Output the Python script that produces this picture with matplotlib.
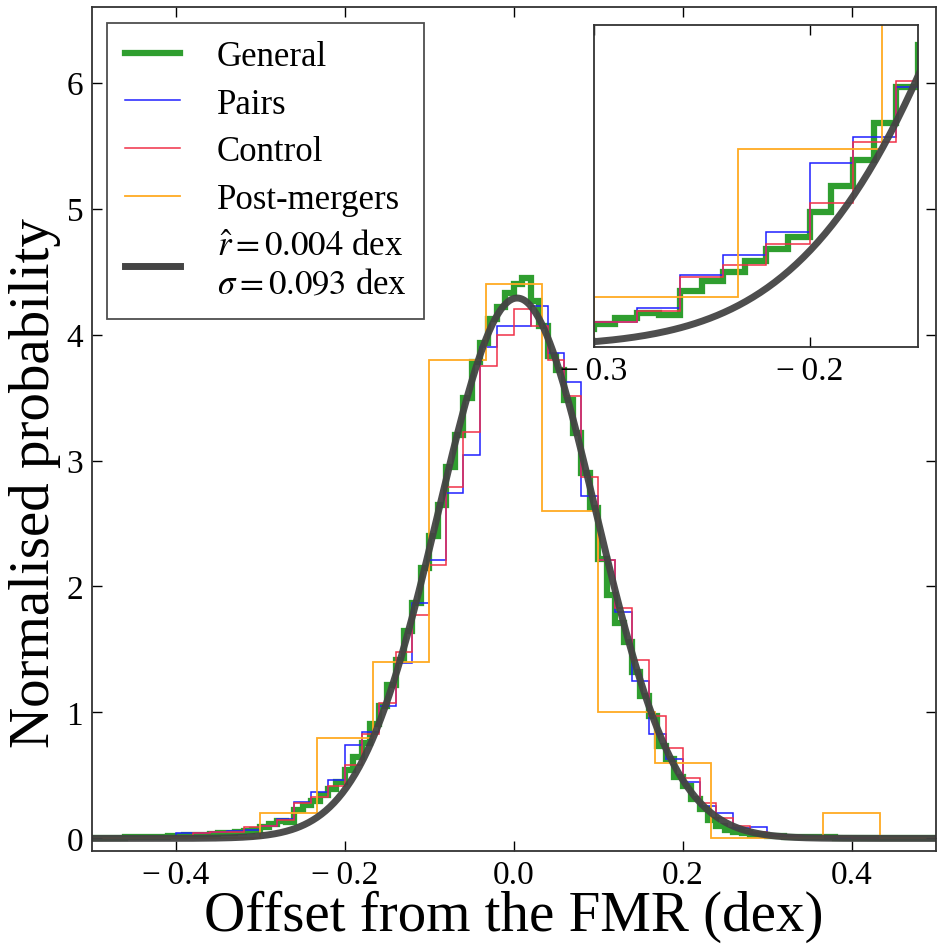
import numpy as np
import matplotlib
matplotlib.use("Agg")
import matplotlib.pyplot as plt
from matplotlib.lines import Line2D

plt.rcParams['font.family'] = 'serif'
plt.rcParams['font.serif'] = ['Liberation Serif', 'DejaVu Serif']
plt.rcParams['mathtext.fontset'] = 'stix'

# bin edges of the histograms
edges_fine = np.linspace(-0.5, 0.5, 101)    # General
edges_mid = np.linspace(-0.5, 0.5, 51)      # Pairs / Control
edges_coarse = np.linspace(-0.5, 0.5, 16)   # Post-mergers

general = [0.005, 0.005, 0.005, 0.005, 0.01, 0.01, 0.01, 0.015, 0.015, 0.02,
           0.02, 0.025, 0.03, 0.03, 0.035, 0.04, 0.045, 0.05, 0.06, 0.07,
           0.09, 0.115, 0.135, 0.13, 0.225, 0.265, 0.30, 0.345, 0.395, 0.445,
           0.545, 0.65, 0.755, 0.905, 1.05, 1.22, 1.42, 1.65, 1.87, 2.15,
           2.40, 2.65, 2.95, 3.20, 3.50, 3.78, 3.93, 4.12, 4.22, 4.33,
           4.40, 4.45, 4.27, 4.07, 3.83, 3.72, 3.48, 3.22, 2.90, 2.62,
           2.22, 1.93, 1.71, 1.56, 1.32, 1.13, 0.97, 0.73, 0.63, 0.49,
           0.42, 0.31, 0.23, 0.15, 0.10, 0.07, 0.05, 0.04, 0.03, 0.025,
           0.02, 0.017, 0.015, 0.012, 0.01, 0.01, 0.008, 0.008, 0.006, 0.006,
           0.005, 0.005, 0.004, 0.004, 0.003, 0.003, 0.003, 0.002, 0.002, 0.002]

pairs = [0, 0, 0, 0, 0, 0.04, 0.04, 0.05, 0.06, 0.07,
         0.10, 0.155, 0.29, 0.37, 0.465, 0.74, 0.845, 1.05, 1.39, 1.87,
         2.21, 2.74, 3.04, 3.90, 4.07, 4.07, 4.23, 3.85, 3.62, 2.72,
         2.21, 1.80, 1.25, 0.83, 0.63, 0.45, 0.26, 0.20, 0.08, 0.09,
         0.03, 0.02, 0.01, 0.01, 0, 0, 0, 0, 0, 0]

control = [0, 0, 0, 0.01, 0.01, 0.02, 0.04, 0.05, 0.05, 0.09,
           0.10, 0.145, 0.28, 0.33, 0.415, 0.58, 0.825, 1.075, 1.48, 1.77,
           2.17, 2.79, 3.23, 3.75, 4.00, 4.20, 4.07, 3.80, 3.51, 2.87,
           2.21, 1.83, 1.42, 0.97, 0.72, 0.48, 0.28, 0.16, 0.10, 0.05,
           0.03, 0.02, 0.01, 0.01, 0.01, 0, 0, 0, 0, 0]

post_mergers = [0, 0, 0, 0.2, 0.8, 1.4, 3.8, 4.4, 2.6, 1.0, 0.6, 0, 0, 0.2, 0]

# fitted normal distribution (values from the legend)
r_hat = 0.004
sigma = 0.093

labels = ['General', 'Pairs', 'Control', 'Post-mergers',
          '$\\hat{r}=0.004$ dex\n$\\sigma=0.093$ dex']

xticks = [-0.4, -0.2, 0.0, 0.2, 0.4]
xticklabels = ['\u2212\u20090.4', '\u2212\u20090.2', '0.0', '0.2', '0.4']
yticks = [0, 1, 2, 3, 4, 5, 6]
inset_xticks = [-0.3, -0.2]
inset_xticklabels = ['\u2212\u20090.3', '\u2212\u20090.2']

x_fit = np.linspace(-0.5, 0.5, 600)
y_fit = np.exp(-0.5 * ((x_fit - r_hat) / sigma) ** 2) / (sigma * np.sqrt(2 * np.pi))

c_gen = '#2f9e2f'
c_pairs = '#1f1fff'
c_ctrl = '#f03048'
c_post = '#ffaa22'
c_fit = '#444444'


def draw(ax):
    ax.stairs(general, edges_fine, baseline=None, color=c_gen, lw=4.5)
    ax.stairs(pairs, edges_mid, baseline=None, color=c_pairs, lw=1.1)
    ax.stairs(control, edges_mid, baseline=None, color=c_ctrl, lw=1.1)
    ax.stairs(post_mergers, edges_coarse, baseline=None, color=c_post, lw=1.3)
    ax.plot(x_fit, y_fit, color=c_fit, lw=5, alpha=0.95)


def style_frame(ax):
    for s in ax.spines.values():
        s.set_linewidth(1.3)
        s.set_color('#333333')


fig = plt.figure(figsize=(9.44, 9.45), dpi=100)
ax = fig.add_axes([0.097, 0.0984, 0.8945, 0.8931])
draw(ax)
ax.set_xlim(-0.5, 0.5)
ax.set_ylim(-0.1, 6.6)
ax.set_xticks(xticks)
ax.set_xticklabels(xticklabels)
ax.set_yticks(yticks)
ax.tick_params(direction='in', length=7, width=1, top=True, right=True, labelsize=24, pad=6)
style_frame(ax)
ax.set_xlabel('Offset from the FMR (dex)', fontsize=41, labelpad=0)
ax.set_ylabel('Normalised probability', fontsize=41)
ax.yaxis.set_label_coords(-0.036, 0.437)

# legend with straight proxy lines
proxies = [Line2D([], [], color=c_gen, lw=4.5),
           Line2D([], [], color=c_pairs, lw=1.1),
           Line2D([], [], color=c_ctrl, lw=1.1),
           Line2D([], [], color=c_post, lw=1.3),
           Line2D([], [], color=c_fit, lw=5)]
leg = ax.legend(proxies, labels, loc='upper left', fontsize=25, frameon=True,
                fancybox=False, handlelength=1.6, handletextpad=1.05,
                labelspacing=0.42, borderaxespad=0.45, borderpad=0.5)
leg.get_frame().set_edgecolor('#222222')
leg.get_frame().set_linewidth(1.3)

# inset zoom on the left tail
axin = fig.add_axes([0.629, 0.632, 0.343, 0.3407])
draw(axin)
axin.set_xlim(-0.3, -0.15)
axin.set_ylim(0, 1.3)
axin.set_xticks(inset_xticks)
axin.set_xticklabels(inset_xticklabels)
axin.set_yticks([])
axin.tick_params(direction='in', length=7, width=1, top=True, labelsize=24, pad=6)
style_frame(axin)

fig.savefig('out.png', dpi=100)
